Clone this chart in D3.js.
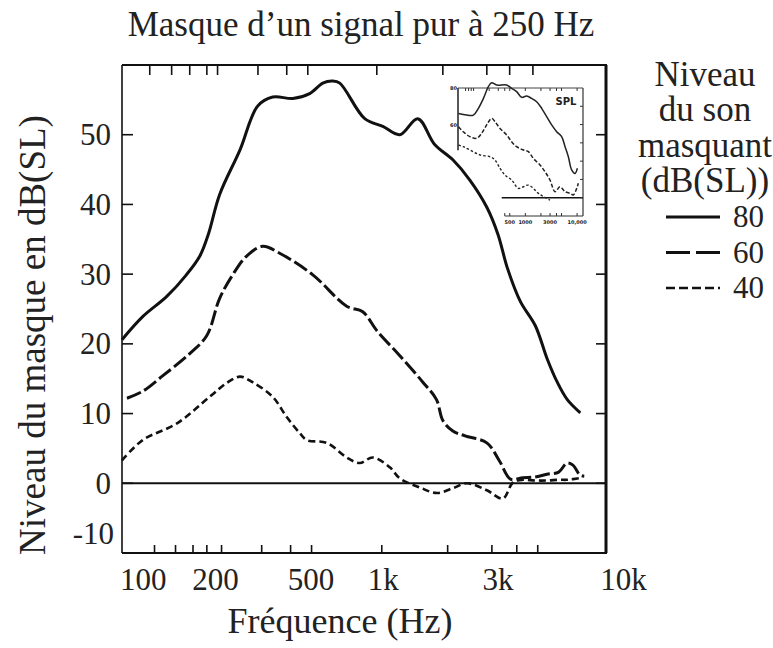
<!DOCTYPE html>
<html>
<head>
<meta charset="utf-8">
<script src="https://cdn.jsdelivr.net/npm/d3@7"></script>
<style>
  html, body { margin: 0; padding: 0; background: #fff; }
  svg { display: block; }
  text { font-family: "Liberation Serif", "DejaVu Serif", serif; fill: #222; }
</style>
</head>
<body>
<svg id="chart" width="773" height="648"></svg>
<script>
// ---------------- DATA ----------------
const titleText = "Masque d\u2019un signal pur \u00e0 250 Hz";
const xAxisTitle = "Fr\u00e9quence (Hz)";
const yAxisTitle = "Niveau du masque en dB(SL)";
const legendTitle = ["Niveau", "du son", "masquant", "(dB(SL))"];
const seriesNames = ["80", "60", "40"];

const xTickValues = [100, 200, 500, 1000, 3000, 10000];
const xTickLabels = ["100", "200", "500", "1k", "3k", "10k"];
const yTickValues = [-10, 0, 10, 20, 30, 40, 50];
const yTickLabels = ["-10", "0", "10", "20", "30", "40", "50"];

// scanned-figure tick marks (Hz) along bottom and top borders
const scanTicksBottom = [112, 137, 162, 185, 213, 313, 413, 505, 990, 1862, 2846, 3613, 4417];
const scanTicksTop = [107, 132, 157, 185, 205, 302, 398, 487, 944, 1778, 2711, 3375, 4217];
const scanTicksY = [0, 10, 20, 30, 40, 50];

// masked threshold curves: [frequency Hz, dB(SL)]
const masker80 = [
  [82, 20.6], [100, 23.9], [126, 26.8], [152, 29.9], [173, 32.6], [188, 35.8],
  [209, 41.4], [254, 47.8], [301, 54.1], [348, 55.4], [422, 55.2], [496, 55.9],
  [562, 57.4], [619, 57.7], [662, 57.4], [841, 52.3], [1000, 51.2], [1177, 50.0],
  [1398, 52.3], [1644, 48.6], [1957, 46.4], [2303, 43.5], [2711, 39.6], [3017, 35.7],
  [3300, 30.9], [3737, 26.1], [4317, 22.6], [4842, 17.8], [5327, 14.5], [5865, 12.0],
  [6645, 10.1]
];
const masker60 = [
  [86, 12.2], [100, 13.2], [121, 15.4], [157, 18.6], [185, 21.2], [209, 26.5],
  [237, 29.9], [271, 32.6], [316, 34.0], [372, 33.0], [511, 29.9], [707, 25.4],
  [825, 24.6], [944, 21.9], [1177, 18.3], [1468, 14.5], [1673, 12.0], [1778, 9.0],
  [1957, 7.5], [2200, 6.8], [2711, 5.8], [3060, 3.2], [3400, 0.6], [3830, 0.8],
  [4300, 0.9], [4820, 1.3], [5400, 1.6], [5840, 2.9], [6190, 2.6], [6620, 1.2],
  [6900, 1.0]
];
const masker40 = [
  [82, 3.3], [100, 6.2], [139, 8.6], [190, 12.4], [224, 14.4], [254, 15.3],
  [287, 14.5], [348, 12.4], [398, 9.5], [451, 7.2], [482, 6.2], [584, 5.8],
  [708, 3.7], [802, 2.9], [908, 3.7], [1069, 2.3], [1177, 0.7], [1426, -0.6],
  [1679, -1.4], [1958, -0.7], [2239, 0.0], [2712, -1.0], [3162, -2.2], [3480, 0.1],
  [3830, 0.5], [4300, 0.4], [4820, 0.4], [5400, 0.5], [5840, 0.5], [6200, 0.6],
  [6810, 0.8]
];

// inset (dB SPL) curves: [frequency Hz, dB SPL]
const insetTickValues = [70, 80, 90, 100, 200, 300, 400, 500, 1000, 2000, 3000, 4000, 5000, 10000];
const insetTickLabelValues = [500, 1000, 3000, 10000];
const insetTickLabels = ["500", "1000", "3000", "10,000"];
const insetYTickValues = [20, 30, 40, 50, 60, 70];
const insetYLabelValues = [60, 80];
const inset80 = [
  [51, 66.1], [73, 65.2], [99, 65.2], [124, 68.9], [155, 74.3], [193, 80.7],
  [223, 82.9], [279, 81.6], [436, 81.6], [544, 79.8], [679, 78.0], [849, 74.9],
  [1059, 75.6], [1324, 74.3], [1655, 72.5], [2065, 68.9], [2582, 64.3], [3226, 59.8],
  [4026, 56.1], [5030, 53.4], [5850, 47.9], [6775, 42.4], [7850, 35.2], [9120, 33.3],
  [10120, 36.1]
];
const inset60 = [
  [51, 58.8], [63, 56.1], [85, 53.4], [115, 52.5], [143, 55.2], [179, 59.8],
  [223, 63.4], [259, 61.6], [324, 57.9], [436, 54.3], [544, 50.6], [679, 47.9],
  [916, 46.1], [1143, 45.2], [1428, 41.5], [1919, 37.9], [2398, 34.2], [2994, 29.7],
  [3740, 23.3], [4675, 26.0], [5850, 23.3], [7300, 22.4], [8450, 21.5], [9820, 25.1],
  [10570, 27.9]
];
const inset40 = [
  [51, 48.8], [63, 47.9], [85, 46.1], [133, 43.4], [207, 42.4], [259, 40.6],
  [324, 36.1], [405, 32.4], [544, 29.7], [733, 25.1], [916, 26.0], [1143, 26.9],
  [1428, 25.1], [1782, 22.4], [2228, 20.6], [2994, 18.7]
];

// ---------------- CHART ----------------
const svg = d3.select("#chart");
svg.append("rect").attr("width", 773).attr("height", 648).attr("fill", "#fff");

const plot = { left: 122, right: 606, top: 65, bottom: 553 };
const x = d3.scaleLog().domain([82, 8500]).range([plot.left, plot.right]);
const y = d3.scaleLinear().domain([-10, 60]).range([plot.bottom, plot.top]);

const ink = "#111";

// title
svg.append("text").attr("x", 361).attr("y", 36).attr("text-anchor", "middle")
  .attr("font-size", 35).text(titleText);

// frame
const frame = svg.append("g");
frame.append("line").attr("x1", plot.left).attr("x2", plot.left).attr("y1", plot.top).attr("y2", plot.bottom)
  .attr("stroke", ink).attr("stroke-width", 1.6);
frame.append("line").attr("x1", plot.left).attr("x2", plot.right + 1).attr("y1", plot.top).attr("y2", plot.top)
  .attr("stroke", ink).attr("stroke-width", 2.2);
frame.append("line").attr("x1", plot.right).attr("x2", plot.right).attr("y1", plot.top).attr("y2", plot.bottom)
  .attr("stroke", ink).attr("stroke-width", 3);
frame.append("line").attr("x1", plot.left).attr("x2", plot.right + 1).attr("y1", plot.bottom).attr("y2", plot.bottom)
  .attr("stroke", ink).attr("stroke-width", 2.2);

// scanned tick marks
frame.selectAll(".tb").data(scanTicksBottom).join("line")
  .attr("x1", d => x(d)).attr("x2", d => x(d))
  .attr("y1", plot.bottom).attr("y2", plot.bottom - 8)
  .attr("stroke", ink).attr("stroke-width", 1.6);
frame.selectAll(".tt").data(scanTicksTop).join("line")
  .attr("x1", d => x(d)).attr("x2", d => x(d))
  .attr("y1", plot.top).attr("y2", plot.top + 10)
  .attr("stroke", ink).attr("stroke-width", 1.6);
frame.selectAll(".tl").data(scanTicksY).join("line")
  .attr("x1", plot.left).attr("x2", plot.left + 11)
  .attr("y1", d => y(d)).attr("y2", d => y(d))
  .attr("stroke", ink).attr("stroke-width", 1.6);
frame.selectAll(".tr").data(scanTicksY).join("line")
  .attr("x1", plot.right - 10).attr("x2", plot.right)
  .attr("y1", d => y(d)).attr("y2", d => y(d))
  .attr("stroke", ink).attr("stroke-width", 1.6);

// zero line
svg.append("line").attr("x1", plot.left).attr("x2", plot.right)
  .attr("y1", y(0)).attr("y2", y(0)).attr("stroke", ink).attr("stroke-width", 2);

// axes labels (overlay text)
const xAxis = d3.axisBottom(x).tickValues(xTickValues)
  .tickFormat((d, i) => xTickLabels[i]).tickSize(0).tickPadding(0);
const gx = svg.append("g").attr("transform", `translate(0,${plot.bottom})`).call(xAxis);
gx.select(".domain").remove();
gx.selectAll("text").attr("font-size", 31)
  .attr("fill", "#222").attr("dy", 0).attr("y", 37);

const yAxis = d3.axisLeft(y).tickValues(yTickValues)
  .tickFormat((d, i) => yTickLabels[i]).tickSize(0).tickPadding(0);
const gy = svg.append("g").attr("transform", `translate(111,0)`).call(yAxis);
gy.select(".domain").remove();
gy.selectAll("text").attr("font-size", 31)
  .attr("fill", "#222").attr("dy", "0.32em");
gy.selectAll(".tick").filter(d => d === -10).select("text").attr("x", 3).attr("dy", "-0.32em");

svg.append("text").attr("x", 340).attr("y", 633).attr("text-anchor", "middle")
  .attr("font-size", 36).text(xAxisTitle);
svg.append("text").attr("transform", "translate(45,335) rotate(-90)")
  .attr("text-anchor", "middle").attr("font-size", 37).text(yAxisTitle);

// curves
const line = d3.line().x(d => x(d[0])).y(d => y(d[1])).curve(d3.curveCatmullRom.alpha(0.5));
const styles = [
  { data: masker80, dash: null, w: 3 },
  { data: masker60, dash: "15,4", w: 3 },
  { data: masker40, dash: "7,4", w: 2.6 }
];
svg.append("g").selectAll("path").data(styles).join("path")
  .attr("d", d => line(d.data))
  .attr("fill", "none").attr("stroke", ink)
  .attr("stroke-width", d => d.w)
  .attr("stroke-dasharray", d => d.dash)
  .attr("stroke-linejoin", "round");

// ---------------- INSET ----------------
const inset = { left: 458, right: 583, top: 88, bottom: 216 };
const ix = d3.scaleLog().domain([50, 13000]).range([inset.left, inset.right]);
const iy = d3.scaleLinear().domain([10, 80]).range([inset.bottom, inset.top]);
const ig = svg.append("g");
ig.append("line").attr("x1", inset.left).attr("x2", inset.left).attr("y1", inset.top).attr("y2", iy(46))
  .attr("stroke", ink).attr("stroke-width", 1.4);
ig.append("line").attr("x1", inset.left).attr("x2", inset.right).attr("y1", inset.top).attr("y2", inset.top)
  .attr("stroke", "#444").attr("stroke-width", 1);
ig.append("line").attr("x1", inset.right).attr("x2", inset.right).attr("y1", inset.top).attr("y2", inset.bottom)
  .attr("stroke", "#333").attr("stroke-width", 1.2);
ig.append("line").attr("x1", ix(350)).attr("x2", inset.right).attr("y1", iy(20)).attr("y2", iy(20))
  .attr("stroke", ink).attr("stroke-width", 1.4);
ig.append("line").attr("x1", ix(400)).attr("x2", inset.right).attr("y1", inset.bottom).attr("y2", inset.bottom)
  .attr("stroke", "#333").attr("stroke-width", 1);
ig.selectAll(".itt").data(insetTickValues).join("line")
  .attr("x1", d => ix(d)).attr("x2", d => ix(d))
  .attr("y1", inset.top).attr("y2", inset.top + 3)
  .attr("stroke", "#333").attr("stroke-width", 1);
ig.selectAll(".itb").data(insetTickValues.filter(d => d >= 400)).join("line")
  .attr("x1", d => ix(d)).attr("x2", d => ix(d))
  .attr("y1", inset.bottom).attr("y2", inset.bottom - 3)
  .attr("stroke", "#333").attr("stroke-width", 1);
ig.selectAll(".itr").data(insetYTickValues).join("line")
  .attr("x1", inset.right - 3).attr("x2", inset.right)
  .attr("y1", d => iy(d)).attr("y2", d => iy(d))
  .attr("stroke", "#333").attr("stroke-width", 1);
ig.selectAll(".itl").data(insetTickLabelValues).join("text")
  .attr("x", d => ix(d)).attr("y", inset.bottom + 8)
  .attr("text-anchor", "middle").attr("font-size", 5).attr("font-weight", "bold")
  .style("font-family", "DejaVu Sans").attr("fill", "#333")
  .text((d, i) => insetTickLabels[i]);
ig.selectAll(".iyl").data(insetYLabelValues).join("text")
  .attr("x", inset.left - 1).attr("y", d => iy(d) + 2)
  .attr("text-anchor", "end").attr("font-size", 5).attr("font-weight", "bold")
  .style("font-family", "DejaVu Sans").attr("fill", "#333")
  .text(d => d);
ig.append("text").attr("x", 566).attr("y", 105).attr("text-anchor", "middle")
  .attr("font-size", 10).attr("font-weight", "bold").style("font-family", "DejaVu Sans")
  .attr("fill", "#222").text("SPL");
const iline = d3.line().x(d => ix(d[0])).y(d => iy(d[1])).curve(d3.curveCatmullRom.alpha(0.5));
const istyles = [
  { data: inset80, dash: null, w: 1.5 },
  { data: inset60, dash: "4,2", w: 1.5 },
  { data: inset40, dash: "2.5,2", w: 1.4 }
];
ig.selectAll("path").data(istyles).join("path")
  .attr("d", d => iline(d.data))
  .attr("fill", "none").attr("stroke", "#222")
  .attr("stroke-width", d => d.w)
  .attr("stroke-dasharray", d => d.dash);

// ---------------- LEGEND ----------------
const lg = svg.append("g");
lg.selectAll(".lt").data(legendTitle).join("text")
  .attr("x", 705).attr("y", (d, i) => 86 + i * 35.3)
  .attr("text-anchor", "middle").attr("font-size", 35).text(d => d);
const legendStyles = [
  { dash: null, w: 3 },
  { dash: "24,6", w: 3 },
  { dash: "9,4", w: 2.6 }
];
const rows = lg.selectAll(".lr").data(seriesNames).join("g")
  .attr("transform", (d, i) => `translate(0,${227 + i * 35.5})`);
rows.append("line").attr("x1", 666).attr("x2", 720).attr("y1", -10).attr("y2", -10)
  .attr("stroke", ink)
  .attr("stroke-width", (d, i) => legendStyles[i].w)
  .attr("stroke-dasharray", (d, i) => legendStyles[i].dash);
rows.append("text").attr("x", 733).attr("y", 0).attr("font-size", 31).text(d => d);
</script>
</body>
</html>
